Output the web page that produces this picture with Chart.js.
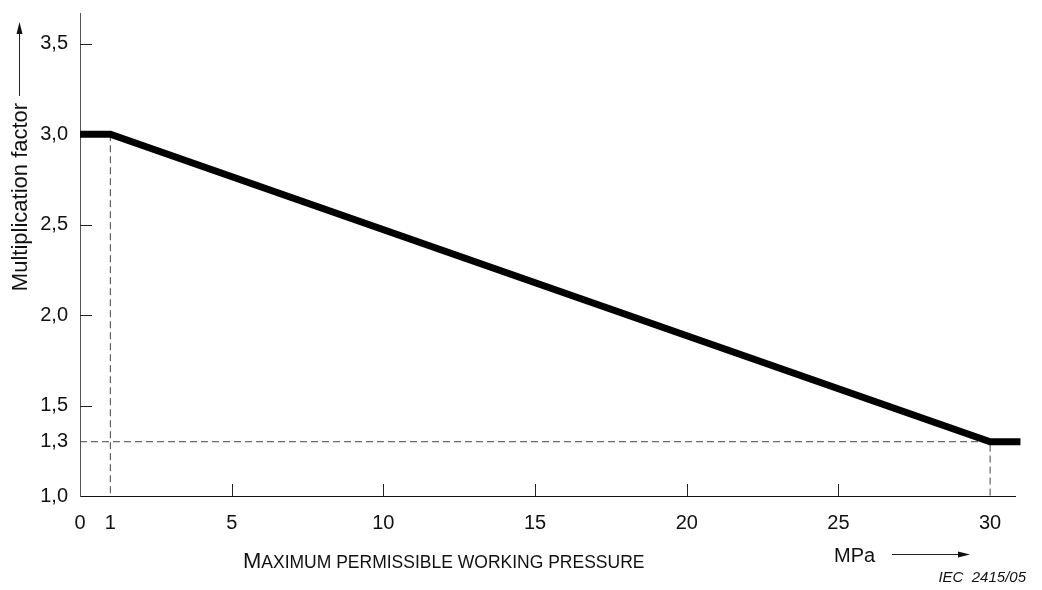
<!DOCTYPE html>
<html>
<head>
<meta charset="utf-8">
<script src="https://cdn.jsdelivr.net/npm/chart.js@4.4.1/dist/chart.umd.min.js"></script>
<style>
  html, body { margin: 0; padding: 0; background: #fff; }
  #wrap { width: 1042px; height: 590px; }
</style>
</head>
<body>
<div id="wrap"><canvas id="chart" width="1042" height="590"></canvas></div>
<script>
// curve: multiplication factor vs max permissible working pressure (MPa)
const pressure = [0, 1, 30, 31];
const factor = [3.0, 3.0, 1.3, 1.3];

// dashed guide lines
const guide1X = [1, 1];
const guide1Y = [3.0, 1.0];
const guide2X = [0, 30, 30];
const guide2Y = [1.3, 1.3, 1.0];

const xTicks = [0, 1, 5, 10, 15, 20, 25, 30];
const yTicks = [1.0, 1.3, 1.5, 2.0, 2.5, 3.0, 3.5];
const xTickMarks = [5, 10, 15, 20, 25];
const yTickMarks = [1.5, 2.0, 2.5, 3.5];

const FONT = 'Liberation Sans, Arial, sans-serif';

function pts(xs, ys){ return xs.map((x, i) => ({ x, y: ys[i] })); }
function comma(v){ return Number(v).toFixed(1).replace('.', ','); }

const decor = {
  id: 'decor',
  afterDraw(chart){
    const ctx = chart.ctx, a = chart.chartArea;
    const xs = chart.scales.x, ys = chart.scales.y;
    ctx.save();
    ctx.strokeStyle = '#222';
    ctx.lineWidth = 1;
    ctx.beginPath();
    yTickMarks.forEach(v => {
      const y = Math.round(ys.getPixelForValue(v)) + 0.5;
      ctx.moveTo(a.left, y); ctx.lineTo(a.left + 12, y);
    });
    xTickMarks.forEach(v => {
      const x = Math.round(xs.getPixelForValue(v)) + 0.5;
      ctx.moveTo(x, a.bottom); ctx.lineTo(x, a.bottom - 12);
    });
    ctx.stroke();

    ctx.fillStyle = '#111';
    // y title with arrow
    ctx.save();
    ctx.translate(27, 197);
    ctx.rotate(-Math.PI / 2);
    ctx.font = '22px ' + FONT;
    ctx.textAlign = 'center';
    ctx.textBaseline = 'alphabetic';
    ctx.fillText('Multiplication factor', 0, 0);
    ctx.restore();
    ctx.beginPath();
    ctx.moveTo(19.5, 96); ctx.lineTo(19.5, 30);
    ctx.stroke();
    ctx.beginPath();
    ctx.moveTo(19.5, 22); ctx.lineTo(16.5, 34); ctx.lineTo(22.5, 34); ctx.closePath();
    ctx.fill();

    // x title in small caps
    ctx.textAlign = 'left';
    ctx.textBaseline = 'alphabetic';
    ctx.font = '22px ' + FONT;
    ctx.fillText('M', 243, 568);
    const w = ctx.measureText('M').width;
    ctx.font = '17.5px ' + FONT;
    ctx.fillText('AXIMUM PERMISSIBLE WORKING PRESSURE', 243 + w, 568);

    // MPa with arrow
    ctx.font = '20px ' + FONT;
    ctx.fillText('MPa', 834, 562);
    ctx.beginPath();
    ctx.moveTo(892, 554.5); ctx.lineTo(960, 554.5);
    ctx.stroke();
    ctx.beginPath();
    ctx.moveTo(970, 554.5); ctx.lineTo(958, 551.5); ctx.lineTo(958, 557.5); ctx.closePath();
    ctx.fill();

    ctx.font = 'italic 15px ' + FONT;
    ctx.textAlign = 'right';
    ctx.fillText('IEC  2415/05', 1026, 582);
    ctx.restore();
  }
};

new Chart(document.getElementById('chart'), {
  type: 'line',
  data: {
    datasets: [
      { data: pts(guide1X, guide1Y), borderColor: '#444', borderWidth: 1, borderDash: [7, 4], pointRadius: 0, order: 2 },
      { data: pts(guide2X, guide2Y), borderColor: '#444', borderWidth: 1, borderDash: [7, 4], pointRadius: 0, order: 2 },
      { data: pts(pressure, factor), borderColor: '#000', borderWidth: 7, pointRadius: 0, borderJoinStyle: 'miter', borderCapStyle: 'butt', clip: false, order: 1 }
    ]
  },
  options: {
    responsive: false,
    devicePixelRatio: 1,
    animation: false,
    layout: { padding: { left: 0, top: 13, right: 27, bottom: 0 } },
    plugins: { legend: { display: false }, tooltip: { enabled: false } },
    scales: {
      x: {
        type: 'linear', min: 0, max: 30.82,
        afterBuildTicks: s => { s.ticks = xTicks.map(v => ({ value: v })); },
        afterFit: s => { s.height = 94; s.paddingLeft = 0; s.paddingRight = 0; },
        grid: { display: false, drawTicks: false },
        border: { display: true, color: '#111', width: 1 },
        ticks: { color: '#111', padding: 15, maxRotation: 0, autoSkip: false, font: { family: FONT, size: 20 }, callback: v => String(v) }
      },
      y: {
        type: 'linear', min: 1.0, max: 3.67,
        afterBuildTicks: s => { s.ticks = yTicks.map(v => ({ value: v })); },
        afterFit: s => { s.width = 80; s.paddingTop = 0; s.paddingBottom = 0; },
        grid: { display: false, drawTicks: false },
        border: { display: true, color: '#555', width: 1 },
        ticks: { color: '#111', padding: 12, autoSkip: false, font: { family: FONT, size: 20 }, callback: v => comma(v) }
      }
    }
  },
  plugins: [decor]
});
</script>
</body>
</html>
